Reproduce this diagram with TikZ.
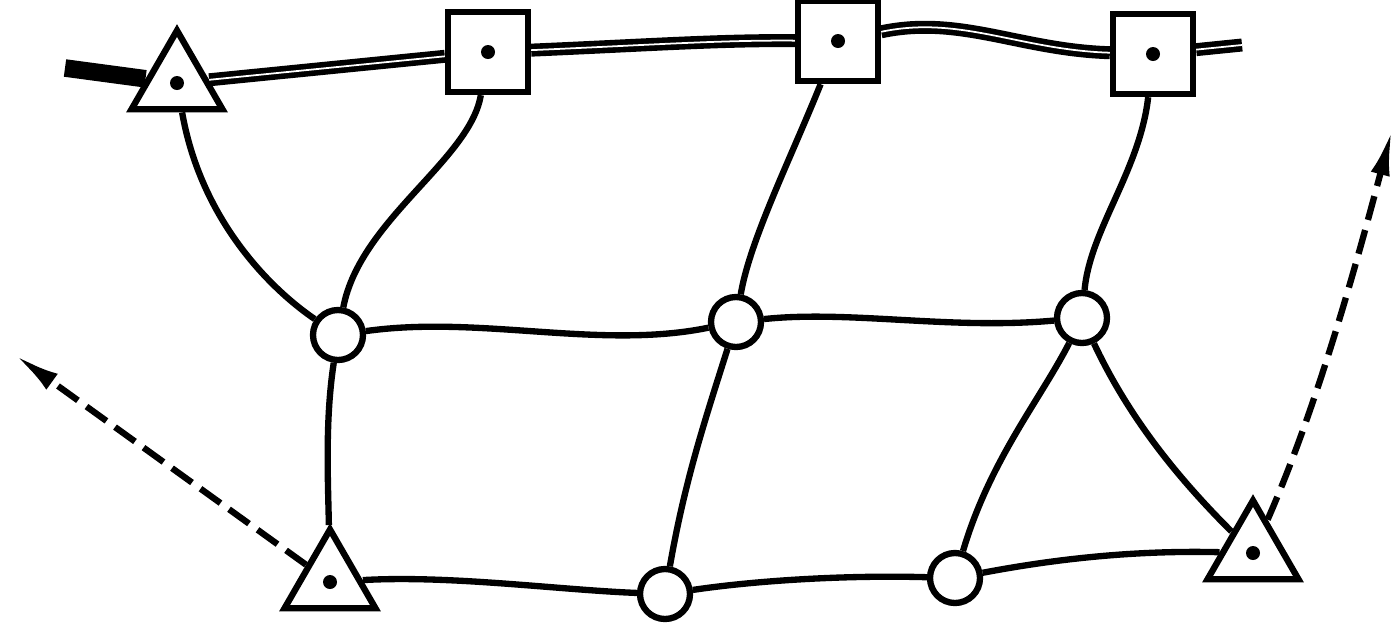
\documentclass[tikz,border=0pt]{standalone}
\usepackage{tikz}
\usetikzlibrary{arrows.meta,shapes.geometric}

\begin{document}
\begin{tikzpicture}[x=0.02cm, y=-0.02cm, line width=3.6pt,
  tri/.style={draw, regular polygon, regular polygon sides=3, minimum size=2.1cm, inner sep=0pt, fill=white},
  sq/.style={draw, rectangle, minimum size=1.6cm, inner sep=0pt, fill=white},
  jn/.style={draw, circle, minimum size=1.0cm, inner sep=0pt, fill=white},
  main/.style={double, double distance=1pt, line width=3.2pt},
  flow/.style={dash pattern=on 14pt off 6pt, -{Latex[length=26pt,width=11pt]}}]
\useasboundingbox (0,0) rectangle (1393,630);
% stations and junctions
\node[tri] (T1) at (177,83) {};
\node[sq]  (S1) at (488,52) {};
\node[sq]  (S2) at (838,41) {};
\node[sq]  (S3) at (1153,54) {};
\node[jn]  (C1) at (338,335) {};
\node[jn]  (C2) at (736,322) {};
\node[jn]  (C3) at (1082,318) {};
\node[tri] (T2) at (330,582) {};
\node[jn]  (C4) at (665,594) {};
\node[jn]  (C5) at (955,578) {};
\node[tri] (T3) at (1253,553) {};
\coordinate (W) at (65,68);
\coordinate (E) at (1242,45);
\coordinate (L) at (15,355);
\coordinate (R) at (1392,130);
% top line
\draw[line width=10pt] (W) -- (T1);
\draw[main] (T1) -- (S1);
\draw[main] (S1) .. controls (650,45) and (720,40) .. (S2);
\draw[main] (S2) .. controls (960,15) and (1020,50) .. (S3);
\draw[main] (S3) -- (E);
% mesh
\draw (T1) .. controls (200,215) and (265,285) .. (C1);
\draw (S1) .. controls (470,160) and (360,220) .. (C1);
\draw (S2) .. controls (790,160) and (750,240) .. (C2);
\draw (S3) .. controls (1140,170) and (1090,230) .. (C3);
\draw (C1) .. controls (480,315) and (600,350) .. (C2);
\draw (C2) .. controls (850,310) and (950,330) .. (C3);
\draw (C1) .. controls (325,420) and (328,480) .. (T2);
\draw (C2) .. controls (705,420) and (685,480) .. (C4);
\draw (C3) .. controls (1040,400) and (990,460) .. (C5);
\draw (C3) .. controls (1130,420) and (1180,480) .. (T3);
\draw (T2) .. controls (450,575) and (560,590) .. (C4);
\draw (C4) .. controls (760,580) and (850,575) .. (C5);
\draw (C5) .. controls (1050,560) and (1130,550) .. (T3);
% outflows
\draw[flow] (T2) -- (L);
\draw[flow] (T3) .. controls (1320,400) and (1360,250) .. (R);
\foreach \n in {T1,T2,T3,S1,S2,S3}
  \fill (\n) circle (0.14cm);
\end{tikzpicture}
\end{document}
